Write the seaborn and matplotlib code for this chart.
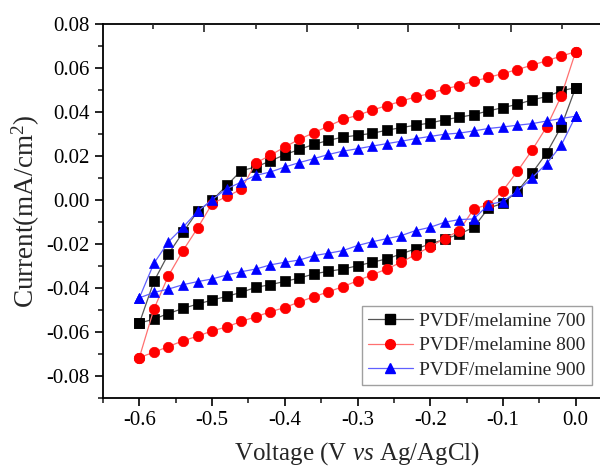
import seaborn as sns
import pandas as pd
import matplotlib
matplotlib.use("Agg")
from matplotlib import pyplot as plt
from matplotlib.ticker import MultipleLocator, FixedLocator

# scan potential grid (V vs Ag/AgCl)
voltage = [-0.60, -0.58, -0.56, -0.54, -0.52, -0.50, -0.48, -0.46, -0.44, -0.42,
           -0.40, -0.38, -0.36, -0.34, -0.32, -0.30, -0.28, -0.26, -0.24, -0.22,
           -0.20, -0.18, -0.16, -0.14, -0.12, -0.10, -0.08, -0.06, -0.04, -0.02, 0.00]

# forward (upper) and reverse (lower) branches
p700_up = [-0.0560, -0.0370, -0.0245, -0.0147, -0.0052, -0.0002, 0.0066, 0.0133, 0.0150, 0.0177,
           0.0206, 0.0230, 0.0253, 0.0271, 0.0286, 0.0294, 0.0303, 0.0317, 0.0329, 0.0340,
           0.0350, 0.0365, 0.0376, 0.0388, 0.0405, 0.0420, 0.0435, 0.0455, 0.0470, 0.0496, 0.0511]
p700_down = [-0.0560, -0.0541, -0.0516, -0.0493, -0.0473, -0.0455, -0.0438, -0.0420, -0.0397, -0.0385,
             -0.0370, -0.0355, -0.0336, -0.0324, -0.0314, -0.0299, -0.0283, -0.0268, -0.0245, -0.0222,
             -0.0200, -0.0178, -0.0155, -0.0124, -0.0037, -0.0015, 0.0040, 0.0122, 0.0213, 0.0332, 0.0511]

p800_up = [-0.0716, -0.0496, -0.0344, -0.0230, -0.0128, -0.0017, 0.0016, 0.0048, 0.0168, 0.0203,
           0.0241, 0.0276, 0.0306, 0.0336, 0.0366, 0.0385, 0.0408, 0.0429, 0.0449, 0.0469,
           0.0484, 0.0505, 0.0520, 0.0540, 0.0557, 0.0575, 0.0593, 0.0613, 0.0633, 0.0654, 0.0674]
p800_down = [-0.0716, -0.0692, -0.0666, -0.0640, -0.0619, -0.0595, -0.0577, -0.0552, -0.0531, -0.0508,
             -0.0489, -0.0463, -0.0440, -0.0417, -0.0394, -0.0367, -0.0340, -0.0314, -0.0283, -0.0248,
             -0.0212, -0.0175, -0.0139, -0.0040, -0.0021, 0.0043, 0.0131, 0.0226, 0.0332, 0.0471, 0.0674]

p900_up = [-0.0445, -0.0288, -0.0190, -0.0124, -0.0052, 0.0001, 0.0051, 0.0081, 0.0112, 0.0127,
           0.0150, 0.0170, 0.0188, 0.0207, 0.0222, 0.0233, 0.0245, 0.0256, 0.0267, 0.0279,
           0.0289, 0.0299, 0.0304, 0.0314, 0.0325, 0.0332, 0.0340, 0.0347, 0.0359, 0.0370, 0.0381]
p900_down = [-0.0445, -0.0420, -0.0405, -0.0385, -0.0371, -0.0359, -0.0341, -0.0326, -0.0314, -0.0295,
             -0.0283, -0.0273, -0.0253, -0.0242, -0.0230, -0.0207, -0.0190, -0.0176, -0.0162, -0.0139,
             -0.0124, -0.0101, -0.0089, -0.0086, -0.0021, -0.0007, 0.0040, 0.0101, 0.0165, 0.0248, 0.0381]

labels = ["PVDF/melamine 700", "PVDF/melamine 800", "PVDF/melamine 900"]
colors = ["#000000", "#ff0000", "#0000ff"]
line_colors = ["#555555", "#ff7070", "#6060ff"]
markers = ["s", "o", "^"]

# top-axis tick positions (mirrored axis in the original figure)
top_major = [-0.511, -0.370, -0.230, -0.0895]
top_minor = [-0.581, -0.440, -0.300, -0.160, -0.019]

# build one long table: upper branch then the reverse branch back
frames = []
for lab, up, down in zip(labels, [p700_up, p800_up, p900_up], [p700_down, p800_down, p900_down]):
    v = voltage + voltage[::-1]
    i = up + down[::-1]
    frames.append(pd.DataFrame({"sample": lab, "voltage": v, "current": i}))
df = pd.concat(frames, ignore_index=True)

sns.set_style("ticks")
plt.rcParams["font.family"] = ["Liberation Serif", "DejaVu Serif"]
plt.rcParams["mathtext.fontset"] = "custom"
plt.rcParams["mathtext.rm"] = "Liberation Serif"
plt.rcParams["mathtext.it"] = "Liberation Serif:italic"
plt.rcParams["axes.unicode_minus"] = False

fig = plt.figure(figsize=(6, 4.67), dpi=100)
ax = fig.add_axes([103 / 600, 69 / 467, 509 / 600, 374 / 467])

sns.lineplot(data=df, x="voltage", y="current", hue="sample", style="sample",
             markers=markers, dashes=False, sort=False, estimator=None,
             palette=colors, markersize=7.5, linewidth=0.9, legend=False, ax=ax)

for line, c, lc in zip(ax.lines, colors, line_colors):
    line.set_color(lc)
    line.set_markerfacecolor(c)
    line.set_markeredgecolor(c)
    line.set_markeredgewidth(0.5)

ax.set_xlim(-0.65, 0.05)
ax.set_ylim(-0.09, 0.08)
ax.xaxis.set_major_locator(MultipleLocator(0.1))
ax.xaxis.set_minor_locator(MultipleLocator(0.05))
ax.yaxis.set_major_locator(MultipleLocator(0.02))
ax.yaxis.set_minor_locator(MultipleLocator(0.01))
ax.xaxis.set_major_formatter(plt.FuncFormatter(lambda v, p: f"{v:.1f}"))
ax.yaxis.set_major_formatter(plt.FuncFormatter(lambda v, p: f"{v:.2f}"))

for s in ["left", "bottom", "top"]:
    ax.spines[s].set_linewidth(1.3)
    ax.spines[s].set_color("black")
ax.spines["right"].set_visible(False)
ax.tick_params(which="major", direction="out", length=6, width=1.2, labelsize=15, colors="black")
ax.tick_params(which="minor", direction="out", length=3.5, width=1.2)
ax.tick_params(top=False, right=False, which="both")

top = ax.twiny()
top.set_xlim(ax.get_xlim())
top.xaxis.set_major_locator(FixedLocator(top_major))
top.xaxis.set_minor_locator(FixedLocator(top_minor))
top.tick_params(which="major", direction="in", length=6, width=1.2, labeltop=False)
top.tick_params(which="minor", direction="in", length=3.5, width=1.2)
for s in top.spines.values():
    s.set_visible(False)

ax.set_xlabel(r"Voltage (V $\mathit{vs}$ Ag/AgCl)", fontsize=18, labelpad=7)
ax.set_ylabel(r"Current(mA/cm$^2$)", fontsize=19.5, labelpad=3)

handles = [plt.Line2D([], [], color=lc, lw=0.9, marker=m, markersize=7, markerfacecolor=c,
                      markeredgecolor=c) for c, lc, m in zip(colors, line_colors, markers)]
leg = ax.legend(handles, labels, loc="lower left", bbox_to_anchor=(0.509, 0.035),
                borderaxespad=0, fontsize=14, frameon=True, fancybox=False,
                edgecolor="#888888", handlelength=2.3, labelspacing=0.36,
                borderpad=0.3, handletextpad=0.35)
leg.get_frame().set_linewidth(1.0)

plt.savefig("out.png", dpi=100)
